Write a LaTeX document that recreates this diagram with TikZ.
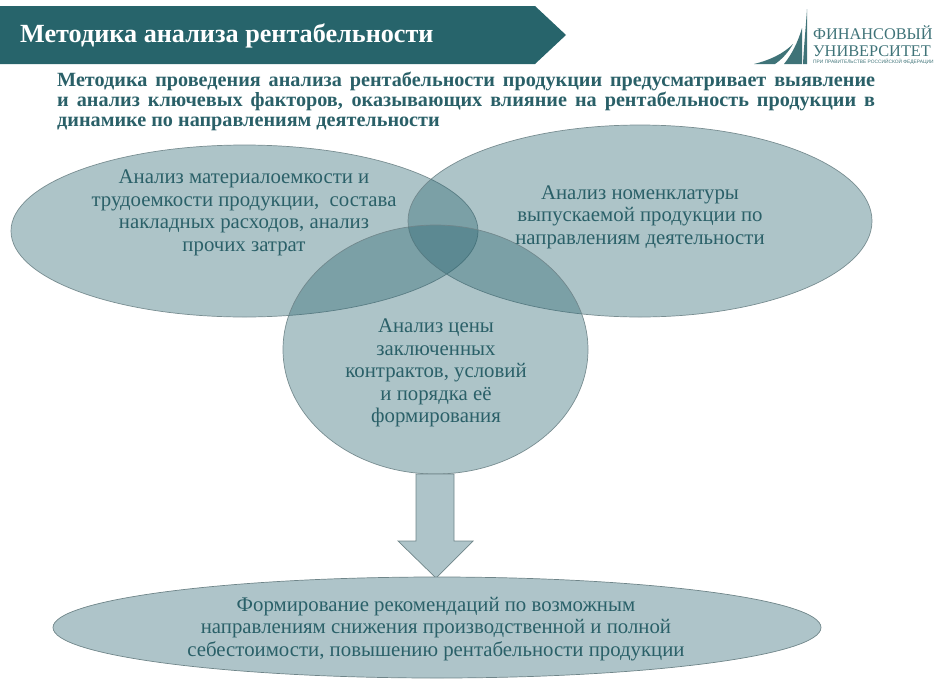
\documentclass[tikz,border=0pt]{standalone}
\usepackage{fontspec}
\setmainfont{Liberation Serif}
\setsansfont{Liberation Sans}
\usetikzlibrary{shapes.geometric,shapes.arrows}
\definecolor{teal}{HTML}{27646B}
\definecolor{txt}{HTML}{2A6068}
\definecolor{lap}{HTML}{2A6570}
\definecolor{edge}{HTML}{6F8589}
\definecolor{logo}{HTML}{3F7378}
\tikzset{
 petal/.style={ellipse,draw=edge,line width=0.7pt,fill=lap,fill opacity=0.385,draw opacity=0.9,text opacity=1,inner sep=0pt,minimum width=#1},
 solid/.style={fill=lap!38!white,draw=edge,line width=0.7pt},
 lab/.style={text=txt,align=center,font=\fontsize{20.8}{22.6}\selectfont},
 intro/.style={text=txt,font=\fontsize{20.2}{20}\bfseries\selectfont,anchor=north west,inner sep=0pt,text width=818pt,align=justify}
}
\begin{document}
\begin{tikzpicture}[x=1pt,y=-1pt]
\useasboundingbox (0,0) rectangle (946,694);
\fill[teal] (0,6) -- (535,6) -- (566,35) -- (535,64) -- (0,64) -- cycle;
\node[anchor=west,text=white,inner sep=0pt,font=\fontsize{26.2}{28}\bfseries\selectfont] (title) at (20,36) {Методика анализа рентабельности};
\node[intro] (intro) at (57,72) {Методика проведения анализа рентабельности продукции предусматривает выявление\linebreak и анализ ключевых факторов, оказывающих влияние на рентабельность продукции в\linebreak динамике по направлениям деятельности};
% venn
\node[petal=467pt,minimum height=172pt] (e1) at (244.5,231) {};
\node[petal=464pt,minimum height=192pt] (e2) at (640,221) {};
\node[petal=305pt,minimum height=249pt] (e3) at (435.5,349.5) {};
\node[lab] (t1) at (244,213) {Анализ материалоемкости и\\трудоемкости продукции,~ состава\\накладных расходов, анализ\\прочих затрат};
\node[lab] (t2) at (640,217) {Анализ номенклатуры\\выпускаемой продукции по\\направлениям деятельности};
\node[lab] (t3) at (436,373) {Анализ цены\\заключенных\\контрактов, условий\\и порядка её\\формирования};
% arrow
\coordinate (a1) at (436,578);
\draw[solid] (416,474) -- (454,474) -- (454,541) -- (473,541) -- (a1) -- (398,541) -- (416,541) -- cycle;
% bottom
\node[ellipse,solid,minimum width=768pt,minimum height=101pt,inner sep=0pt] (e4) at (437,627.5) {};
\node[lab] (t4) at (436,629) {Формирование рекомендаций по возможным\\направлениям снижения производственной и полной\\себестоимости, повышению рентабельности продукции};
% logo
\fill[logo] (754,64) .. controls (770,60) and (783,54) .. (793,44) .. controls (788,53) and (781,60) .. (775,64) -- cycle;
\fill[logo] (784,64) .. controls (792,54) and (798,42) .. (802,28) -- (802,64) -- cycle;
\fill[logo] (803,64) .. controls (804,45) and (806,25) .. (807,9) -- (807,64) -- cycle;
\node[anchor=west,inner sep=0pt,text=logo,align=left,font=\fontsize{16.3}{17}\selectfont] (uni) at (813,41) {ФИНАНСОВЫЙ\\УНИВЕРСИТЕТ};
\node[anchor=west,inner sep=0pt,text=logo,font=\sffamily\fontsize{4.85}{5}\selectfont] (sub) at (813,62) {ПРИ ПРАВИТЕЛЬСТВЕ РОССИЙСКОЙ ФЕДЕРАЦИИ};
\end{tikzpicture}
\end{document}
